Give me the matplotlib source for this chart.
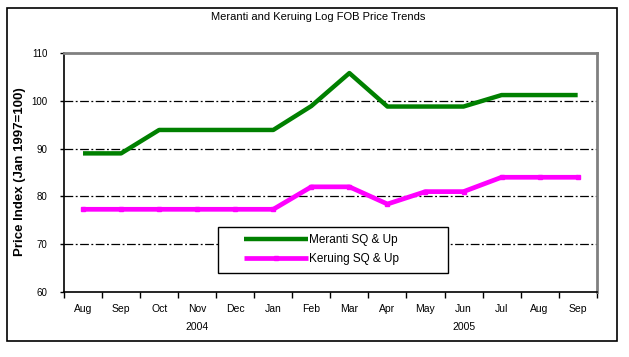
import matplotlib
matplotlib.use("Agg")
import matplotlib.pyplot as plt
from matplotlib.patches import Rectangle
from matplotlib.transforms import blended_transform_factory
import numpy as np

plt.rcParams['font.family'] = ['Liberation Sans', 'DejaVu Sans']

months = ["Aug", "Sep", "Oct", "Nov", "Dec", "Jan", "Feb", "Mar", "Apr", "May", "Jun", "Jul", "Aug", "Sep"]
meranti = [89, 89, 93.9, 93.9, 93.9, 93.9, 98.9, 105.8, 98.8, 98.8, 98.8, 101.2, 101.2, 101.2]
keruing = [77.3, 77.3, 77.3, 77.3, 77.3, 77.3, 82.0, 82.0, 78.4, 81.0, 81.0, 84.0, 84.0, 84.0]
years = ["2004", "2005"]
year_pos = [3, 10]
yticks = [60, 70, 80, 90, 100, 110]
grid_vals = [70, 80, 90, 100]

W, H = 629, 357
fig = plt.figure(figsize=(W / 100, H / 100), dpi=100)
fig.patch.set_facecolor("white")

# outer border
fig.patches.append(Rectangle((7 / W, 1 - 341 / H), (617 - 7) / W, (341 - 8) / H,
                             transform=fig.transFigure, fill=False, edgecolor="black", lw=1.2))

ax = fig.add_axes([64 / W, (H - 292) / H, (596.7 - 64) / W, (292 - 53) / H])
x = np.arange(len(months))

for g in grid_vals:
    ax.axhline(g, color="black", lw=0.9, ls=(0, (7, 2, 1.5, 2)), zorder=1)

ax.plot(x, meranti, color="#008000", lw=3.2, solid_capstyle="butt", zorder=3, label="Meranti SQ & Up")
ax.plot(x, keruing, color="#FF00FF", lw=3.4, marker="s", markersize=3.5, solid_capstyle="butt",
        zorder=3, label="Keruing SQ & Up")

ax.set_xlim(-0.5, len(months) - 0.5)
ax.set_ylim(60, 110)
ax.set_yticks(yticks)
ax.set_yticklabels([str(v) for v in yticks], fontsize=7)
ax.tick_params(axis="y", direction="out", length=3, pad=9, width=1)

ax.set_xticks(np.arange(-0.5, len(months), 1.0))
ax.set_xticklabels([])
ax.set_xticks(x, minor=True)
ax.set_xticklabels(months, minor=True, fontsize=7.5)
ax.tick_params(axis="x", which="major", direction="out", length=4, width=1)
ax.tick_params(axis="x", which="minor", length=0, pad=9)

for s in ["left", "bottom"]:
    ax.spines[s].set_color("black")
    ax.spines[s].set_linewidth(1.2)
for s in ["top", "right"]:
    ax.spines[s].set_color("#808080")
    ax.spines[s].set_linewidth(2)

trans = blended_transform_factory(ax.transData, ax.transAxes)
for yr, p in zip(years, year_pos):
    ax.text(p, -0.148, yr, transform=trans, ha="center", va="center", fontsize=7.5)

# legend box
ax.add_patch(Rectangle((0.289, 0.0795), 0.432, 0.192, transform=ax.transAxes,
                       facecolor="white", edgecolor="black", lw=1, zorder=4))
leg = ax.legend(loc="upper left", bbox_to_anchor=(0.338, 0.241), frameon=False,
                borderpad=0, borderaxespad=0, handlelength=5.4, handletextpad=0.1,
                labelspacing=0.6, fontsize=8.5)
leg.set_zorder(5)

fig.text(318 / W, 1 - 17 / H, "Meranti and Keruing Log FOB Price Trends", ha="center", va="center", fontsize=8)
fig.text(20 / W, 1 - 172 / H, "Price Index (Jan 1997=100)", rotation=90, ha="center", va="center",
         fontsize=9.5, fontweight="bold")

fig.savefig("out.png", dpi=100)
